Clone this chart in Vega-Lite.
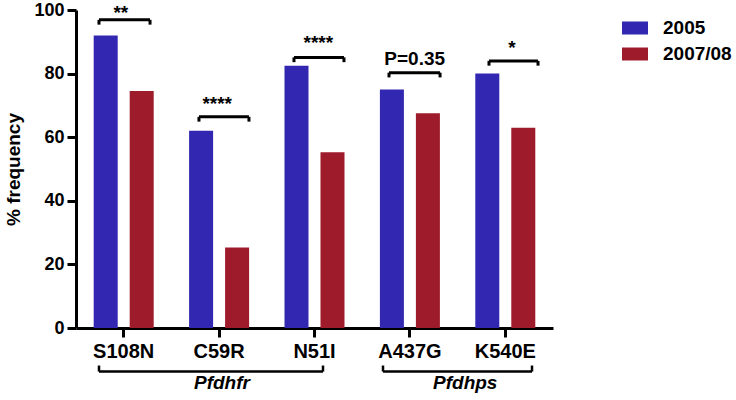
{
  "$schema": "https://vega.github.io/schema/vega-lite/v6.json",
  "width": 477,
  "height": 318,
  "autosize": "none",
  "padding": {"left": 76, "top": 10, "right": 183, "bottom": 72},
  "background": "white",
  "config": {
    "view": {"stroke": null},
    "font": "Liberation Sans",
    "axis": {"domainColor": "black", "tickColor": "black", "labelColor": "black", "titleColor": "black", "grid": false}
  },
  "datasets": {
    "bars": [
      {"gene": "S108N", "year": "2005", "value": 92},
      {"gene": "S108N", "year": "2007/08", "value": 74.5},
      {"gene": "C59R", "year": "2005", "value": 62},
      {"gene": "C59R", "year": "2007/08", "value": 25.3},
      {"gene": "N51I", "year": "2005", "value": 82.5},
      {"gene": "N51I", "year": "2007/08", "value": 55.3},
      {"gene": "A437G", "year": "2005", "value": 75},
      {"gene": "A437G", "year": "2007/08", "value": 67.5},
      {"gene": "K540E", "year": "2005", "value": 80},
      {"gene": "K540E", "year": "2007/08", "value": 63}
    ],
    "sig": [
      {"x1": 0.241, "x2": 0.776, "y": 96.9, "ye": 95.4, "label": "**", "lx": 0.47, "ly": 99.2},
      {"x1": 1.289, "x2": 1.813, "y": 66.4, "ye": 64.9, "label": "****", "lx": 1.48, "ly": 70.4},
      {"x1": 2.285, "x2": 2.809, "y": 85.1, "ye": 83.6, "label": "****", "lx": 2.54, "ly": 89.6},
      {"x1": 3.281, "x2": 3.816, "y": 80.3, "ye": 78.8, "label": "P=0.35", "lx": 3.55, "ly": 84.6},
      {"x1": 4.329, "x2": 4.843, "y": 84.0, "ye": 82.5, "label": "*", "lx": 4.57, "ly": 88.0}
    ],
    "grp": [
      {"x1": 0.241, "x2": 2.589, "y": -13.7, "ye": -11.8, "label": "Pfdhfr", "lx": 1.53, "ly": -17.4},
      {"x1": 3.218, "x2": 4.78, "y": -13.7, "ye": -11.8, "label": "Pfdhps", "lx": 4.08, "ly": -17.4}
    ]
  },
  "layer": [
    {
      "data": {"name": "bars"},
      "mark": {"type": "bar"},
      "encoding": {
        "x": {
          "field": "gene", "type": "nominal",
          "sort": ["S108N", "C59R", "N51I", "A437G", "K540E"],
          "scale": {"paddingInner": 0.371, "paddingOuter": 0.1855},
          "axis": {"title": null, "labelAngle": 0, "labelFontSize": 20, "labelFontWeight": "bold", "domainWidth": 3, "tickWidth": 3, "tickSize": 9, "labelPadding": 4}
        },
        "xOffset": {
          "field": "year", "type": "nominal",
          "scale": {"paddingInner": 0.333, "paddingOuter": 0}
        },
        "y": {
          "field": "value", "type": "quantitative",
          "scale": {"domain": [0, 100], "nice": false},
          "axis": {"title": "% frequency", "values": [0, 20, 40, 60, 80, 100], "labelFontSize": 18, "labelFontWeight": "bold", "titleFontSize": 19, "titleFontWeight": "bold", "domainWidth": 3, "tickWidth": 3, "tickSize": 9, "labelPadding": 3, "titlePadding": 10}
        },
        "color": {
          "field": "year", "type": "nominal",
          "scale": {"domain": ["2005", "2007/08"], "range": ["#3227b0", "#9e1b2b"]},
          "legend": {
            "title": null, "orient": "none", "legendX": 546, "legendY": 5,
            "symbolType": "M-1,-0.5H1V0.5H-1Z", "symbolSize": 676, "symbolStrokeWidth": 0,
            "labelFontSize": 19, "labelFontWeight": "bold", "labelColor": "black", "labelOffset": 15, "rowPadding": 3
          }
        }
      }
    },
    {
      "data": {"name": "sig"},
      "mark": {"type": "rule", "strokeWidth": 3, "color": "black"},
      "encoding": {
        "x": {"field": "x1", "type": "quantitative", "scale": {"domain": [0, 5], "nice": false, "zero": false}, "axis": null},
        "x2": {"field": "x2"},
        "y": {"field": "y", "type": "quantitative"}
      }
    },
    {
      "data": {"name": "sig"},
      "mark": {"type": "rule", "strokeWidth": 3, "color": "black"},
      "encoding": {
        "x": {"field": "x1", "type": "quantitative", "scale": {"domain": [0, 5], "nice": false, "zero": false}, "axis": null},
        "y": {"field": "y", "type": "quantitative"},
        "y2": {"field": "ye"}
      }
    },
    {
      "data": {"name": "sig"},
      "mark": {"type": "rule", "strokeWidth": 3, "color": "black"},
      "encoding": {
        "x": {"field": "x2", "type": "quantitative", "scale": {"domain": [0, 5], "nice": false, "zero": false}, "axis": null},
        "y": {"field": "y", "type": "quantitative"},
        "y2": {"field": "ye"}
      }
    },
    {
      "data": {"name": "sig"},
      "mark": {"type": "text", "fontSize": 19, "fontWeight": "bold", "color": "black", "baseline": "middle", "align": "center"},
      "encoding": {
        "x": {"field": "lx", "type": "quantitative", "scale": {"domain": [0, 5], "nice": false, "zero": false}, "axis": null},
        "y": {"field": "ly", "type": "quantitative"},
        "text": {"field": "label"}
      }
    },
    {
      "data": {"name": "grp"},
      "mark": {"type": "rule", "strokeWidth": 2.5, "color": "black", "clip": false},
      "encoding": {
        "x": {"field": "x1", "type": "quantitative", "scale": {"domain": [0, 5], "nice": false, "zero": false}, "axis": null},
        "x2": {"field": "x2"},
        "y": {"field": "y", "type": "quantitative"}
      }
    },
    {
      "data": {"name": "grp"},
      "mark": {"type": "rule", "strokeWidth": 2.5, "color": "black"},
      "encoding": {
        "x": {"field": "x1", "type": "quantitative", "scale": {"domain": [0, 5], "nice": false, "zero": false}, "axis": null},
        "y": {"field": "y", "type": "quantitative"},
        "y2": {"field": "ye"}
      }
    },
    {
      "data": {"name": "grp"},
      "mark": {"type": "rule", "strokeWidth": 2.5, "color": "black"},
      "encoding": {
        "x": {"field": "x2", "type": "quantitative", "scale": {"domain": [0, 5], "nice": false, "zero": false}, "axis": null},
        "y": {"field": "y", "type": "quantitative"},
        "y2": {"field": "ye"}
      }
    },
    {
      "data": {"name": "grp"},
      "mark": {"type": "text", "fontSize": 19, "fontWeight": "bold", "fontStyle": "italic", "color": "black", "baseline": "middle", "align": "center"},
      "encoding": {
        "x": {"field": "lx", "type": "quantitative", "scale": {"domain": [0, 5], "nice": false, "zero": false}, "axis": null},
        "y": {"field": "ly", "type": "quantitative"},
        "text": {"field": "label"}
      }
    }
  ],
  "resolve": {"scale": {"x": "independent"}, "axis": {"x": "independent"}}
}
